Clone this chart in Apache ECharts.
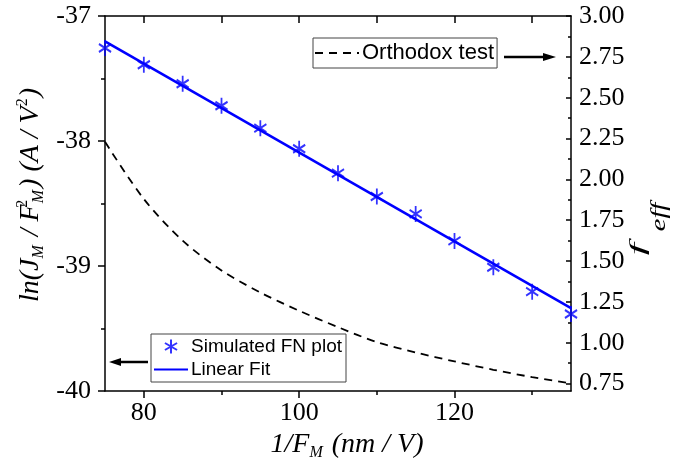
<!DOCTYPE html>
<html>
<head>
<meta charset="utf-8">
<script src="https://cdn.jsdelivr.net/npm/echarts@6/dist/echarts.min.js"></script>
<style>html,body{margin:0;padding:0;background:#fff;}#c{width:673px;height:470px;}</style>
</head>
<body>
<div id="c"></div>
<script>
// ---- data ----
const xValues = [75, 80, 85, 90, 95, 100, 105, 110, 115, 120, 125, 130, 135];
const fnPlot = [-37.256, -37.39, -37.542, -37.718, -37.897, -38.062, -38.257, -38.444, -38.583, -38.799, -39.01, -39.205, -39.384];
const fitX = [75, 135];
const fitY = [-37.203, -39.337];
const fEff = [2.23, 1.88, 1.625, 1.443, 1.308, 1.196, 1.096, 1.004, 0.941, 0.886, 0.835, 0.79, 0.752];
const xMajorTicks = [80, 100, 120];
const xMinorTicks = [90, 110, 130];
const xTopTicks = [80, 90, 100, 110, 120, 130];
const rightMajorTicks = [0.75, 1.00, 1.25, 1.50, 1.75, 2.00, 2.25, 2.50, 2.75, 3.00];
const rightMinorTicks = [0.875, 1.125, 1.375, 1.625, 1.875, 2.125, 2.375, 2.625, 2.875];
const seriesNames = ['Simulated FN plot', 'Linear Fit', 'Orthodox test'];

const SERIF = 'Liberation Serif';
const SANS = 'Liberation Sans';
const BLUE = '#0000ff';
const asterisk = 'path://M0,-10L0,10M-8.66,-5L8.66,5M-8.66,5L8.66,-5';

const chart = echarts.init(document.getElementById('c'), null, {renderer: 'canvas'});

const axisLineStyle = {color: '#000', width: 1.5};
const tickLabel = {color: '#000', fontFamily: SERIF, fontSize: 26};

const titleRich = {
  m: {fontFamily: SERIF, fontStyle: 'italic', fontSize: 28, lineHeight: 32, color: '#000'},
  sub: {fontFamily: SERIF, fontStyle: 'italic', fontSize: 16, lineHeight: 16, verticalAlign: 'bottom', color: '#000', padding: [0, 2, 0, 0]},
  sup: {fontFamily: SERIF, fontStyle: 'normal', fontSize: 16, lineHeight: 18, verticalAlign: 'top', color: '#000', padding: [0, 1, 0, 0]},
  sup0: {fontFamily: SERIF, fontStyle: 'normal', fontSize: 16, lineHeight: 18, verticalAlign: 'top', color: '#000', width: 1}
};

const option = {
  backgroundColor: '#fff',
  animation: false,
  grid: {left: 105, right: 102, top: 16, bottom: 79, containLabel: false},
  xAxis: [
    {
      type: 'value', min: 75, max: 135, position: 'bottom', offset: 0,
      axisLine: {show: true, lineStyle: axisLineStyle},
      axisTick: {show: true, customValues: xMajorTicks, length: 7, lineStyle: {color: '#000', width: 1.5}},
      axisLabel: {show: true, customValues: xMajorTicks, margin: 9, ...tickLabel},
      splitLine: {show: false}
    },
    {
      type: 'value', min: 75, max: 135, position: 'bottom', offset: 0,
      axisLine: {show: false},
      axisTick: {show: true, customValues: xMinorTicks, length: 4, lineStyle: {color: '#000', width: 1.5}},
      axisLabel: {show: false},
      splitLine: {show: false}
    },
    {
      type: 'value', min: 75, max: 135, position: 'top', offset: 0,
      axisLine: {show: true, lineStyle: axisLineStyle},
      axisTick: {show: true, inside: true, customValues: xTopTicks, length: 7, lineStyle: {color: '#000', width: 1.5}},
      axisLabel: {show: false},
      splitLine: {show: false}
    }
  ],
  yAxis: [
    {
      type: 'value', min: -40, max: -37, interval: 1, position: 'left', offset: 0,
      axisLine: {show: true, lineStyle: axisLineStyle},
      axisTick: {show: true, length: 7, lineStyle: {color: '#000', width: 1.5}},
      minorTick: {show: true, splitNumber: 2, length: 4, lineStyle: {color: '#000', width: 1.5}},
      axisLabel: {show: true, margin: 14, ...tickLabel},
      splitLine: {show: false}, minorSplitLine: {show: false}
    },
    {
      type: 'value', min: 0.705, max: 3.0, position: 'right', offset: 0,
      axisLine: {show: true, lineStyle: axisLineStyle},
      axisTick: {show: true, inside: true, customValues: rightMajorTicks, length: 5, lineStyle: {color: '#000', width: 1.5}},
      axisLabel: {show: true, customValues: rightMajorTicks, margin: 8, formatter: v => Number(v).toFixed(2), ...tickLabel},
      splitLine: {show: false}
    },
    {
      type: 'value', min: 0.705, max: 3.0, position: 'right', offset: 0,
      axisLine: {show: false},
      axisTick: {show: true, inside: true, customValues: rightMinorTicks, length: 3, lineStyle: {color: '#000', width: 1.5}},
      axisLabel: {show: false},
      splitLine: {show: false}
    }
  ],
  legend: [
    {
      data: [{name: seriesNames[2], itemStyle: {opacity: 0}}],
      left: 313, top: 38, orient: 'horizontal',
      padding: [4, 3, 4, 1], itemWidth: 44, itemHeight: 12, itemGap: 0,
      borderColor: '#444', borderWidth: 1, borderRadius: 0,
      textStyle: {fontFamily: SANS, fontSize: 22, color: '#000', padding: [0, 0, 0, -2]},
      selectedMode: false
    },
    {
      data: [{name: seriesNames[0], icon: asterisk}, {name: seriesNames[1], itemStyle: {opacity: 0}}],
      left: 151, top: 334, orient: 'vertical',
      padding: [3, 4, 3, 2], itemWidth: 34, itemHeight: 14, itemGap: 4,
      borderColor: '#444', borderWidth: 1, borderRadius: 0,
      textStyle: {fontFamily: SANS, fontSize: 19, color: '#000', padding: [0, 0, 0, -2]},
      selectedMode: false
    }
  ],
  series: [
    {
      name: seriesNames[1], type: 'line', xAxisIndex: 0, yAxisIndex: 0,
      data: fitX.map((x, i) => [x, fitY[i]]),
      symbol: 'none', showSymbol: false,
      lineStyle: {color: BLUE, width: 2.6}, itemStyle: {color: BLUE}, z: 3
    },
    {
      name: seriesNames[0], type: 'scatter', xAxisIndex: 0, yAxisIndex: 0,
      data: xValues.map((x, i) => [x, fnPlot[i]]),
      symbol: asterisk, symbolSize: [14, 16], symbolKeepAspect: true,
      itemStyle: {color: 'rgba(0,0,0,0)', borderColor: BLUE, borderWidth: 1.9}, z: 4
    },
    {
      name: seriesNames[2], type: 'line', xAxisIndex: 0, yAxisIndex: 1,
      data: xValues.map((x, i) => [x, fEff[i]]),
      smooth: 0.3, symbol: 'none', showSymbol: false,
      lineStyle: {color: '#000', width: 1.8, type: [8, 6]}, itemStyle: {color: '#000'}, z: 2
    }
  ],
  graphic: [
    {
      type: 'text', x: 31, y: 195, rotation: Math.PI / 2,
      style: {
        text: '{m|ln(J}{sub|M}{m| / F}{sup0|2}{sub|M}{m|) (A / V}{sup|2}{m|)}',
        rich: titleRich, align: 'center', verticalAlign: 'middle'
      }
    },
    {
      type: 'text', x: 347, y: 445,
      style: {
        text: '{m|1/F}{sub|M}{m| (nm / V)}',
        rich: titleRich, align: 'center', verticalAlign: 'middle'
      }
    },
    {
      type: 'group', x: 640, y: 272, rotation: Math.PI / 2,
      children: [
        {
          type: 'text', x: 23, y: -2, scaleX: 1.3, scaleY: 0.62,
          style: {text: 'f', fontFamily: SERIF, fontStyle: 'italic', fontSize: 34, fill: '#000', align: 'center', verticalAlign: 'middle'}
        },
        {
          type: 'text', x: 55, y: 19, scaleX: 1.3, scaleY: 1,
          style: {text: 'eff', fontFamily: SERIF, fontStyle: 'italic', fontSize: 22, fill: '#000', align: 'center', verticalAlign: 'middle'}
        }
      ]
    },
    // arrow pointing to right axis
    {type: 'line', shape: {x1: 504, y1: 57, x2: 545, y2: 57}, style: {stroke: '#000', lineWidth: 2.5}},
    {type: 'polygon', shape: {points: [[556, 57], [543, 53], [543, 61]]}, style: {fill: '#000'}},
    // arrow pointing to left axis
    {type: 'line', shape: {x1: 148, y1: 362, x2: 119, y2: 362}, style: {stroke: '#000', lineWidth: 2.5}},
    {type: 'polygon', shape: {points: [[109, 362], [121, 358], [121, 366]]}, style: {fill: '#000'}}
  ]
};
chart.setOption(option);
</script>
</body>
</html>
